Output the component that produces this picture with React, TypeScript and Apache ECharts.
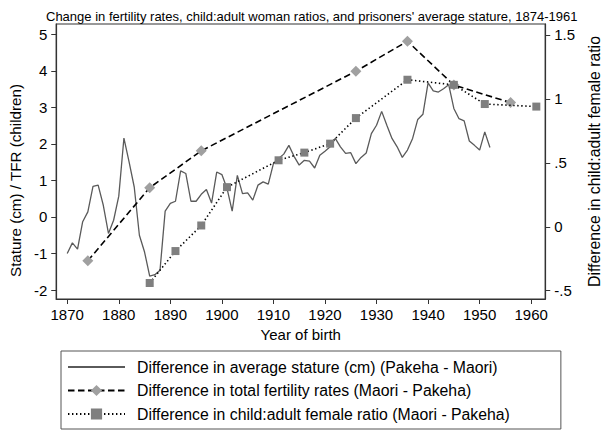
import React, { useEffect, useRef } from "react";
import * as echarts from "echarts";

const titleText =
  "Change in fertility rates, child:adult woman ratios, and prisoners' average stature, 1874-1961";

const statureYears = [
  1870, 1871, 1872, 1873, 1874, 1875, 1876, 1877, 1878, 1879, 1880, 1881, 1882, 1883, 1884, 1885,
  1886, 1887, 1888, 1889, 1890, 1891, 1892, 1893, 1894, 1895, 1896, 1897, 1898, 1899, 1900, 1901,
  1902, 1903, 1904, 1905, 1906, 1907, 1908, 1909, 1910, 1911, 1912, 1913, 1914, 1915, 1916, 1917,
  1918, 1919, 1920, 1921, 1922, 1923, 1924, 1925, 1926, 1927, 1928, 1929, 1930, 1931, 1932, 1933,
  1934, 1935, 1936, 1937, 1938, 1939, 1940, 1941, 1942, 1943, 1944, 1945, 1946, 1947, 1948, 1949,
  1950, 1951, 1952,
];
const statureDiff = [
  -1.0, -0.71, -0.88, -0.13, 0.14, 0.84, 0.87, 0.32, -0.45, -0.09, 0.57, 2.16, 1.51, 0.82, -0.5, -0.96,
  -1.62, -1.58, -1.46, 0.16, 0.37, 0.43, 1.26, 1.19, 0.43, 0.43, 0.62, 0.75, 0.38, 1.23, 1.16, 0.78,
  0.16, 1.14, 0.64, 0.66, 0.46, 0.87, 0.96, 0.9, 1.46, 1.6, 1.72, 1.96, 1.66, 1.42, 1.55, 1.53,
  1.34, 1.69, 1.8, 1.92, 2.15, 1.92, 1.74, 1.76, 1.46, 1.63, 1.75, 2.28, 2.51, 2.89, 2.51, 2.15,
  1.92, 1.63, 1.83, 2.15, 2.67, 2.81, 3.67, 3.45, 3.42, 3.51, 3.62, 2.97, 2.69, 2.63, 2.08, 1.96,
  1.83, 2.33, 1.9,
];

const tfrYears = [1874, 1886, 1896, 1926, 1936, 1945, 1956];
const tfrDiff = [-1.2, 0.8, 1.81, 3.99, 4.81, 3.61, 3.13];

const cwrYears = [1886, 1891, 1896, 1901, 1911, 1916, 1921, 1926, 1936, 1945, 1951, 1961];
const cwrDiff = [-0.44, -0.19, 0.01, 0.31, 0.52, 0.58, 0.65, 0.85, 1.15, 1.11, 0.96, 0.94];

const xTicks = [1870, 1880, 1890, 1900, 1910, 1920, 1930, 1940, 1950, 1960];
const leftTicks = [-2, -1, 0, 1, 2, 3, 4, 5];
const rightTicks = [-0.5, 0, 0.5, 1, 1.5];

const seriesNames = [
  "Difference in average stature (cm) (Pakeha - Maori)",
  "Difference in total fertility rates (Maori - Pakeha)",
  "Difference in child:adult female ratio (Maori - Pakeha)",
];

const FONT = "'Liberation Sans', Arial, Helvetica, sans-serif";

function fmtRight(v: number): string {
  if (v === 0) return "0";
  let s = String(v);
  s = s.replace(/^0\./, ".").replace(/^-0\./, "-.");
  return s;
}

export default function App() {
  const ref = useRef<HTMLDivElement>(null);
  useEffect(() => {
    if (!ref.current) return;
    const chart = echarts.init(ref.current, undefined, { renderer: "svg" });
    const axisColor = "#333";
    chart.setOption({
      animation: false,
      backgroundColor: "#fff",
      textStyle: { fontFamily: FONT },
      title: {
        text: titleText,
        left: 41,
        top: 5,
        textStyle: { fontSize: 13, fontWeight: "normal", color: "#000", fontFamily: FONT },
      },
      grid: {
        left: 47,
        right: 59,
        top: 24,
        bottom: 137,
        show: true,
        borderColor: axisColor,
        borderWidth: 1.2,
        backgroundColor: "transparent",
      },
      legend: {
        orient: "vertical",
        left: 61,
        top: 351,
        itemWidth: 57,
        itemHeight: 14,
        itemGap: 7.5,
        padding: [8, 51, 7, 6],
        borderColor: "#555",
        borderWidth: 1,
        data: [
          { name: seriesNames[0], itemStyle: { opacity: 0 } },
          { name: seriesNames[1] },
          { name: seriesNames[2] },
        ],
        textStyle: { fontSize: 15.8, color: "#000", fontFamily: FONT, padding: [0, 0, 0, 7] },
      },
      xAxis: {
        type: "value",
        min: 1867.87,
        max: 1962.73,
        name: "Year of birth",
        nameLocation: "middle",
        nameGap: 24,
        nameTextStyle: { fontSize: 15, color: "#000", fontFamily: FONT },
        splitLine: { show: false },
        axisLine: { show: true, onZero: false, lineStyle: { color: axisColor, width: 1.2 } },
        axisTick: { show: true, customValues: xTicks, length: 5, lineStyle: { color: axisColor } },
        axisLabel: {
          customValues: xTicks,
          margin: 8,
          fontSize: 15,
          color: "#000",
          fontFamily: FONT,
          formatter: (v: number) => String(v),
        },
      },
      yAxis: [
        {
          type: "value",
          min: -2.246,
          max: 5.282,
          position: "left",
          name: "Stature (cm) / TFR (children)",
          nameLocation: "middle",
          nameRotate: 90,
          nameGap: 23,
          nameTextStyle: {
            fontSize: 15.2,
            color: "#000",
            fontFamily: FONT,
            padding: [0, 38, 0, 0],
          },
          splitLine: { show: false },
          axisLine: { show: true, onZero: false, lineStyle: { color: axisColor, width: 1.2 } },
          axisTick: { show: true, customValues: leftTicks, length: 5, lineStyle: { color: axisColor } },
          axisLabel: {
            customValues: leftTicks,
            margin: 9,
            fontSize: 15,
            color: "#000",
            fontFamily: FONT,
          },
        },
        {
          type: "value",
          min: -0.565,
          max: 1.586,
          position: "right",
          name: "Difference in child:adult female ratio",
          nameLocation: "middle",
          nameRotate: 90,
          nameGap: 40,
          nameTextStyle: { fontSize: 15.8, color: "#000", fontFamily: FONT },
          splitLine: { show: false },
          axisLine: { show: true, onZero: false, lineStyle: { color: axisColor, width: 1.2 } },
          axisTick: { show: true, customValues: rightTicks, length: 5, lineStyle: { color: axisColor } },
          axisLabel: {
            customValues: rightTicks,
            margin: 9,
            fontSize: 15,
            color: "#000",
            fontFamily: FONT,
            formatter: (v: number) => fmtRight(v),
          },
        },
      ],
      series: [
        {
          name: seriesNames[0],
          type: "line",
          yAxisIndex: 0,
          symbol: "none",
          data: statureYears.map((y, i) => [y, statureDiff[i]]),
          lineStyle: { color: "#5a5a5a", width: 1.3 },
          itemStyle: { color: "#5a5a5a" },
          z: 2,
        },
        {
          name: seriesNames[1],
          type: "line",
          yAxisIndex: 0,
          symbol: "diamond",
          symbolSize: 11,
          data: tfrYears.map((y, i) => [y, tfrDiff[i]]),
          lineStyle: { color: "#000", width: 1.6, type: [6.5, 3.5] },
          itemStyle: { color: "#a0a0a0", borderWidth: 0 },
          z: 3,
        },
        {
          name: seriesNames[2],
          type: "line",
          yAxisIndex: 1,
          symbol: "rect",
          symbolSize: 8,
          data: cwrYears.map((y, i) => [y, cwrDiff[i]]),
          lineStyle: { color: "#000", width: 1.6, type: [1.4, 2.6] },
          itemStyle: { color: "#7f7f7f", borderWidth: 0 },
          z: 4,
        },
      ],
    });
    return () => chart.dispose();
  }, []);
  return (
    <div
      ref={ref}
      style={{ position: "fixed", left: 0, top: 0, width: 610, height: 436, background: "#fff" }}
    />
  );
}
